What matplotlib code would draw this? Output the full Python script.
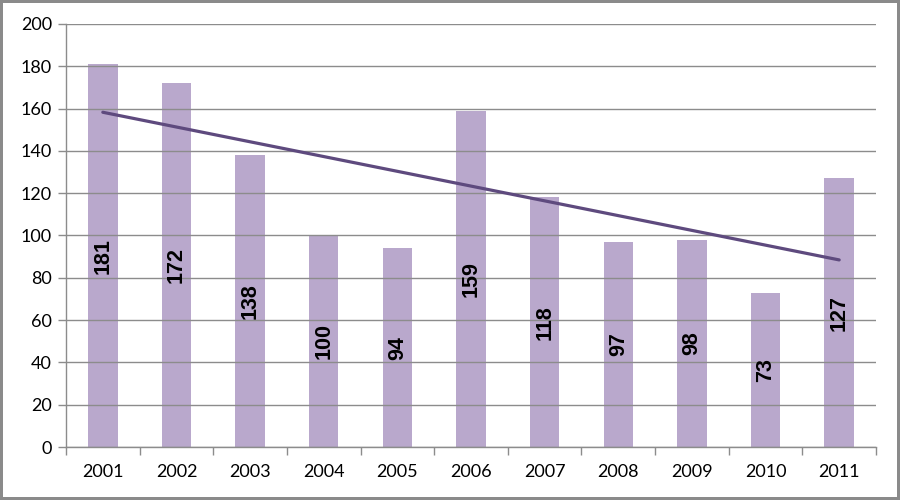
import matplotlib
matplotlib.use("Agg")
import matplotlib.pyplot as plt
import numpy as np

years = ["2001", "2002", "2003", "2004", "2005", "2006", "2007", "2008", "2009", "2010", "2011"]
values = [181, 172, 138, 100, 94, 159, 118, 97, 98, 73, 127]

fig = plt.figure(figsize=(9, 5), dpi=100, linewidth=3, edgecolor="#8a8a8a")
ax = fig.add_axes([66/900, 53/500, 810/900, 423/500])

x = np.arange(len(years))
ax.bar(x, values, width=0.4, color="#b9a8cc", zorder=2)

# linear trendline
slope, intercept = np.polyfit(x, values, 1)
ax.plot(x, slope * x + intercept, color="#5e4a7e", linewidth=2.3, zorder=4,
        solid_capstyle="round")

for xi, v in zip(x, values):
    ax.text(xi, v / 2, str(v), rotation=90, ha="center", va="center",
            fontsize=15.5, fontweight="bold", family="Liberation Sans",
            color="black", zorder=5)

ax.set_xlim(-0.5, len(years) - 0.5)
ax.set_ylim(0, 200)
ax.set_yticks(range(0, 201, 20))
ax.yaxis.grid(True, color="#8c8c8c", linewidth=1, zorder=3)
ax.set_axisbelow(False)
ax.set_xticks(x)
ax.set_xticklabels(years)
ax.set_xticks(np.arange(-0.5, len(years), 1), minor=True)
ax.tick_params(axis="x", which="major", length=0, pad=12)
ax.tick_params(axis="x", which="minor", length=6, color="#8c8c8c", width=1)
ax.tick_params(axis="y", length=6, color="#8c8c8c", width=1, pad=4)
for lab in ax.get_xticklabels() + ax.get_yticklabels():
    lab.set_family("Lato")
    lab.set_fontsize(13)
for s in ["top", "right"]:
    ax.spines[s].set_visible(False)
for s in ["left", "bottom"]:
    ax.spines[s].set_color("#8c8c8c")
    ax.spines[s].set_linewidth(1)

fig.savefig("out.png", dpi=100, edgecolor=fig.get_edgecolor())
